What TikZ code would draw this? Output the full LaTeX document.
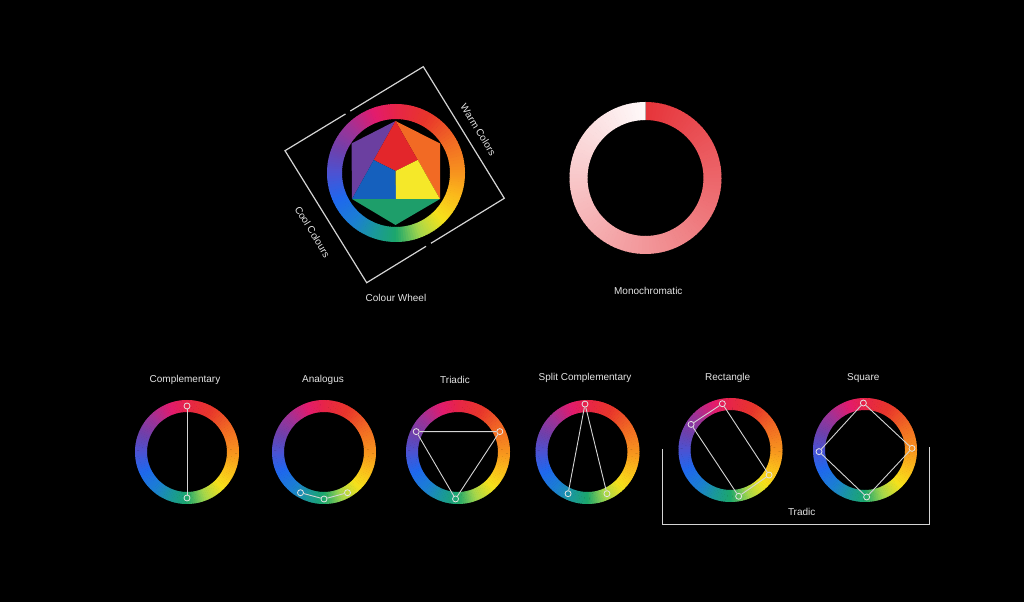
\documentclass[tikz,border=0pt]{standalone}
\usepackage{fontspec}
\setmainfont{Liberation Sans}
\usetikzlibrary{calc}
\definecolor{h0}{HTML}{F7931E}
\definecolor{h30}{HTML}{F26A24}
\definecolor{h60}{HTML}{E8362B}
\definecolor{h90}{HTML}{E72548}
\definecolor{h110}{HTML}{E31B6D}
\definecolor{h135}{HTML}{A03296}
\definecolor{h160}{HTML}{6B42AE}
\definecolor{h180}{HTML}{4D52D2}
\definecolor{h205}{HTML}{1F68EE}
\definecolor{h230}{HTML}{1B80D2}
\definecolor{h250}{HTML}{1A989C}
\definecolor{h270}{HTML}{1CA76C}
\definecolor{h292}{HTML}{A6D84C}
\definecolor{h315}{HTML}{F6E11B}
\definecolor{h340}{HTML}{FBB81B}
\definecolor{monored}{HTML}{E6343A}
\definecolor{txtgray}{HTML}{E4E4E4}
\definecolor{linegray}{HTML}{D4D4D4}
\definecolor{hexviolet}{HTML}{6B3FA0}
\definecolor{hexred}{HTML}{E3262B}
\definecolor{hexorange}{HTML}{F26A24}
\definecolor{hexblue}{HTML}{1560BD}
\definecolor{hexyellow}{HTML}{F5E829}
\definecolor{hexgreen}{HTML}{1E9E6A}
\newcommand{\huering}[3]{%
\begin{scope}[shift={#1}]
\foreach \ha/\hb/\ca/\cb in {0/30/h0/h30,30/60/h30/h60,60/90/h60/h90,90/110/h90/h110,110/135/h110/h135,135/160/h135/h160,160/180/h160/h180,180/205/h180/h205,205/230/h205/h230,230/250/h230/h250,250/270/h250/h270,270/292/h270/h292,292/315/h292/h315,315/340/h315/h340,340/360/h340/h0}{%
 \foreach \i in {0,...,9}{%
  \pgfmathsetmacro{\sa}{\ha+(\hb-\ha)*\i/10}%
  \pgfmathsetmacro{\sb}{\ha+(\hb-\ha)*(\i+1)/10+0.5}%
  \pgfmathsetmacro{\pc}{100-10*(\i+0.5)}%
  \fill[\ca!\pc!\cb] (\sa:#2) arc[start angle=\sa,end angle=\sb,radius=#2] -- (\sb:#3) arc[start angle=\sb,end angle=\sa,radius=#3] -- cycle;
 }}
\end{scope}}
\tikzset{
  lbl/.style={text=txtgray,font=\fontsize{10}{12}\selectfont,inner sep=0pt},
  bracket/.style={draw=linegray,line width=1.2pt},
  conn/.style={draw=linegray,line width=0.9pt},
  dot/.style={circle,draw=white!90!black,line width=0.8pt,inner sep=0pt,minimum size=6pt}
}
\begin{document}
\begin{tikzpicture}[x=1pt,y=1pt]
\fill[black] (0,0) rectangle (1024,602);
\useasboundingbox (0,0) rectangle (1024,602);

% ---------- Colour wheel ----------
\huering{(396,429)}{69}{54}
\coordinate (hT) at (395.5,481);
\coordinate (hUR) at (440,458.5);
\coordinate (hLR) at (440,403);
\coordinate (hB) at (395.5,377);
\coordinate (hLL) at (352,403);
\coordinate (hUL) at (351.5,458.5);
\coordinate (hLM) at (373.75,442);
\coordinate (hRM) at (417.75,442);
\coordinate (hC) at (395.5,431);
\coordinate (hBM) at (396,403);
\fill[hexviolet] (hT) -- (hUL) -- (hLL) -- cycle;
\fill[hexorange] (hT) -- (hUR) -- (hLR) -- cycle;
\fill[hexgreen] (hLL) -- (hLR) -- (hB) -- cycle;
\fill[hexred] (hT) -- (hLM) -- (hC) -- (hRM) -- cycle;
\fill[hexblue] (hLM) -- (hC) -- (hBM) -- (hLL) -- cycle;
\fill[hexyellow] (hC) -- (hRM) -- (hLR) -- (hBM) -- cycle;

\coordinate (sqL) at (285,451.3);
\coordinate (sqT) at (423.3,535.3);
\coordinate (sqR) at (504.3,403.7);
\coordinate (sqB) at (366.7,319.3);
\draw[bracket] ($(sqL)!0.472!(sqT)$) -- (sqT) -- (sqR) -- ($(sqR)!0.533!(sqB)$);
\draw[bracket] ($(sqB)!0.431!(sqR)$) -- (sqB) -- (sqL) -- ($(sqL)!0.437!(sqT)$);
\node[lbl,rotate=-58.4] (warm) at (478.4,472.2) {Warm Colors};
\node[lbl,rotate=-58.4] (cool) at (312.5,370.2) {Cool Colours};
\node[lbl] (cwl) at (396,304) {Colour Wheel};

% ---------- Monochromatic ----------
\begin{scope}[shift={(645.5,424)}]
\foreach \i in {0,...,119}{%
  \pgfmathsetmacro{\sa}{90-3*\i}%
  \pgfmathsetmacro{\sb}{\i<119 ? 90-3*(\i+1)-0.5 : -270}%
  \pgfmathsetmacro{\pc}{100-97*(\i+0.5)/120}%
  \fill[monored!\pc!white] (\sa:76) arc[start angle=\sa,end angle=\sb,radius=76] -- (\sb:58) arc[start angle=\sb,end angle=\sa,radius=58] -- cycle;
}
\end{scope}
\node[lbl] (monol) at (648.3,311) {Monochromatic};

% ---------- bottom row ----------
\coordinate (w1) at (187,150);
\coordinate (w2) at (324,150);
\coordinate (w3) at (458,150);
\coordinate (w4) at (587.5,150);
\coordinate (w5) at (730.5,152);
\coordinate (w6) at (865,152);
\huering{(w1)}{52}{40}
\huering{(w2)}{52}{40}
\huering{(w3)}{52}{40}
\huering{(w4)}{52}{40}
\huering{(w5)}{52}{40}
\huering{(w6)}{52}{40}

\node[lbl] (l1) at (185,222) {Complementary};
\node[lbl] (l2) at (323,222) {Analogus};
\node[lbl] (l3) at (455,222) {Triadic};
\node[lbl] (l4) at (585,223.7) {Split Complementary};
\node[lbl] (l5) at (727.7,223.7) {Rectangle};
\node[lbl] (l6) at (863.3,223.7) {Square};

% Complementary
\node[dot] (c1a) at ($(w1)+(90:46)$) {};
\node[dot] (c1b) at ($(w1)+(270:46)$) {};
\draw[conn] (c1a) -- (c1b);
% Analogus
\node[dot] (c2a) at ($(w2)+(240:47)$) {};
\node[dot] (c2b) at ($(w2)+(270:47)$) {};
\node[dot] (c2c) at ($(w2)+(300:47)$) {};
\draw[conn] (c2a) -- (c2b) -- (c2c);
% Triadic
\node[dot] (c3a) at ($(w3)+(154:46.5)$) {};
\node[dot] (c3b) at ($(w3)+(26:46.5)$) {};
\node[dot] (c3c) at ($(w3)+(267:47)$) {};
\draw[conn] (c3a) -- (c3b) -- (c3c) -- (c3a);
% Split complementary
\node[dot] (c4a) at ($(w4)+(93:48)$) {};
\node[dot] (c4b) at ($(w4)+(245:46)$) {};
\node[dot] (c4c) at ($(w4)+(295:46)$) {};
\draw[conn] (c4b) -- (c4a) -- (c4c);
% Rectangle
\node[dot] (c5a) at ($(w5)+(100:47)$) {};
\node[dot] (c5b) at ($(w5)+(147:47)$) {};
\node[dot] (c5c) at ($(w5)+(280:47)$) {};
\node[dot] (c5d) at ($(w5)+(327:46)$) {};
\draw[conn] (c5a) -- (c5b) -- (c5c) -- (c5d) -- (c5a);
% Square
\node[dot] (c6a) at ($(w6)+(92:47)$) {};
\node[dot] (c6b) at ($(w6)+(2:47)$) {};
\node[dot] (c6c) at ($(w6)+(272:47)$) {};
\node[dot] (c6d) at ($(w6)+(182:46)$) {};
\draw[conn] (c6a) -- (c6b) -- (c6c) -- (c6d) -- (c6a);

% Tradic bracket
\coordinate (tb1) at (662.3,153);
\coordinate (tb2) at (662.3,77.7);
\coordinate (tb3) at (929.3,77.7);
\coordinate (tb4) at (929.3,155.3);
\draw[bracket] (tb1) -- (tb2) -- (tb3) -- (tb4);
\node[lbl] (tl) at (801.7,90.3) {Tradic};
\end{tikzpicture}
\end{document}
